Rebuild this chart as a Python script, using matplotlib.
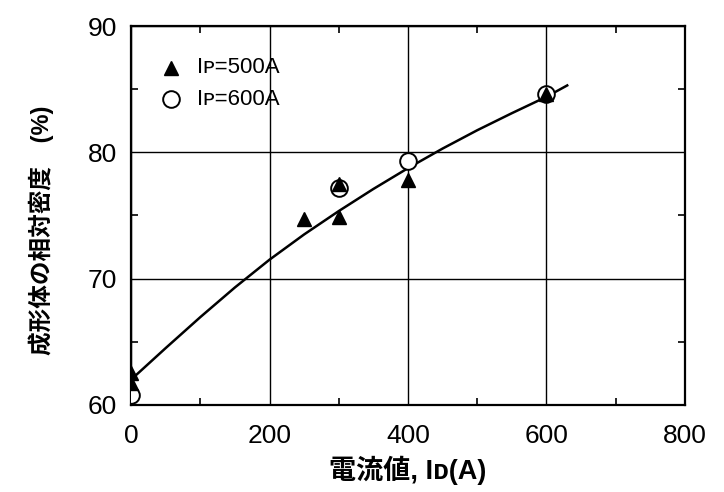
import matplotlib
matplotlib.use("Agg")
import matplotlib.pyplot as plt
from matplotlib.ticker import MultipleLocator

plt.rcParams['font.family'] = ['Liberation Sans', 'Noto Sans CJK JP', 'DejaVu Sans']

# measured points, Ip=500A (triangles)
i500_x = [0, 0, 250, 300, 300, 400, 600]
i500_y = [62.5, 61.7, 74.7, 74.9, 77.5, 77.8, 84.6]
# measured points, Ip=600A (open circles)
i600_x = [0, 300, 400, 600]
i600_y = [60.8, 77.2, 79.3, 84.6]
# fitted curve
fit_x = [0, 50, 100, 150, 200, 250, 300, 350, 400, 450, 500, 550, 600, 630]
fit_y = [62.0, 64.5, 66.95, 69.3, 71.5, 73.5, 75.35, 77.1, 78.75, 80.3, 81.75, 83.1, 84.4, 85.3]

xticks = [0, 200, 400, 600, 800]
yticks = [60, 70, 80, 90]

fig = plt.figure(figsize=(7.24, 4.92), dpi=100)
ax = fig.add_axes([0.181, 0.177, 0.765, 0.770])

ax.plot(fit_x, fit_y, color='black', lw=1.8, zorder=3)
ax.plot(i600_x, i600_y, 'o', ms=12, mfc='white', mec='black', mew=1.4, zorder=4)
ax.plot(i500_x, i500_y, '^', ms=10.5, color='black', zorder=5)

ax.set_xlim(0, 800)
ax.set_ylim(60, 90)
ax.set_xticks(xticks)
ax.set_yticks(yticks)
ax.xaxis.set_minor_locator(MultipleLocator(100))
ax.yaxis.set_minor_locator(MultipleLocator(5))
ax.tick_params(which='both', direction='in', top=True, right=True, labelsize=19)
ax.tick_params(which='major', length=0, pad=10)
ax.tick_params(axis='x', which='major', pad=14)
ax.tick_params(which='minor', length=5, width=1.2)
ax.grid(True, which='major', color='black', lw=1.0)
for s in ax.spines.values():
    s.set_linewidth(1.6)

ax.set_xlabel('電流値, Iᴅ(A)', fontsize=19.5, fontweight='bold', labelpad=5)
ax.set_ylabel('成形体の相対密度　(%)', fontsize=17, fontweight='bold')
ax.yaxis.set_label_coords(-0.14, 0.46)

# legend drawn by hand
ax.plot([58], [86.7], '^', ms=10.5, color='black', clip_on=False)
ax.text(95, 86.7, 'Iᴘ=500A', fontsize=16, va='center')
ax.plot([58], [84.2], 'o', ms=12, mfc='white', mec='black', mew=1.4, clip_on=False)
ax.text(95, 84.2, 'Iᴘ=600A', fontsize=16, va='center')

fig.savefig('out.png', dpi=100)
